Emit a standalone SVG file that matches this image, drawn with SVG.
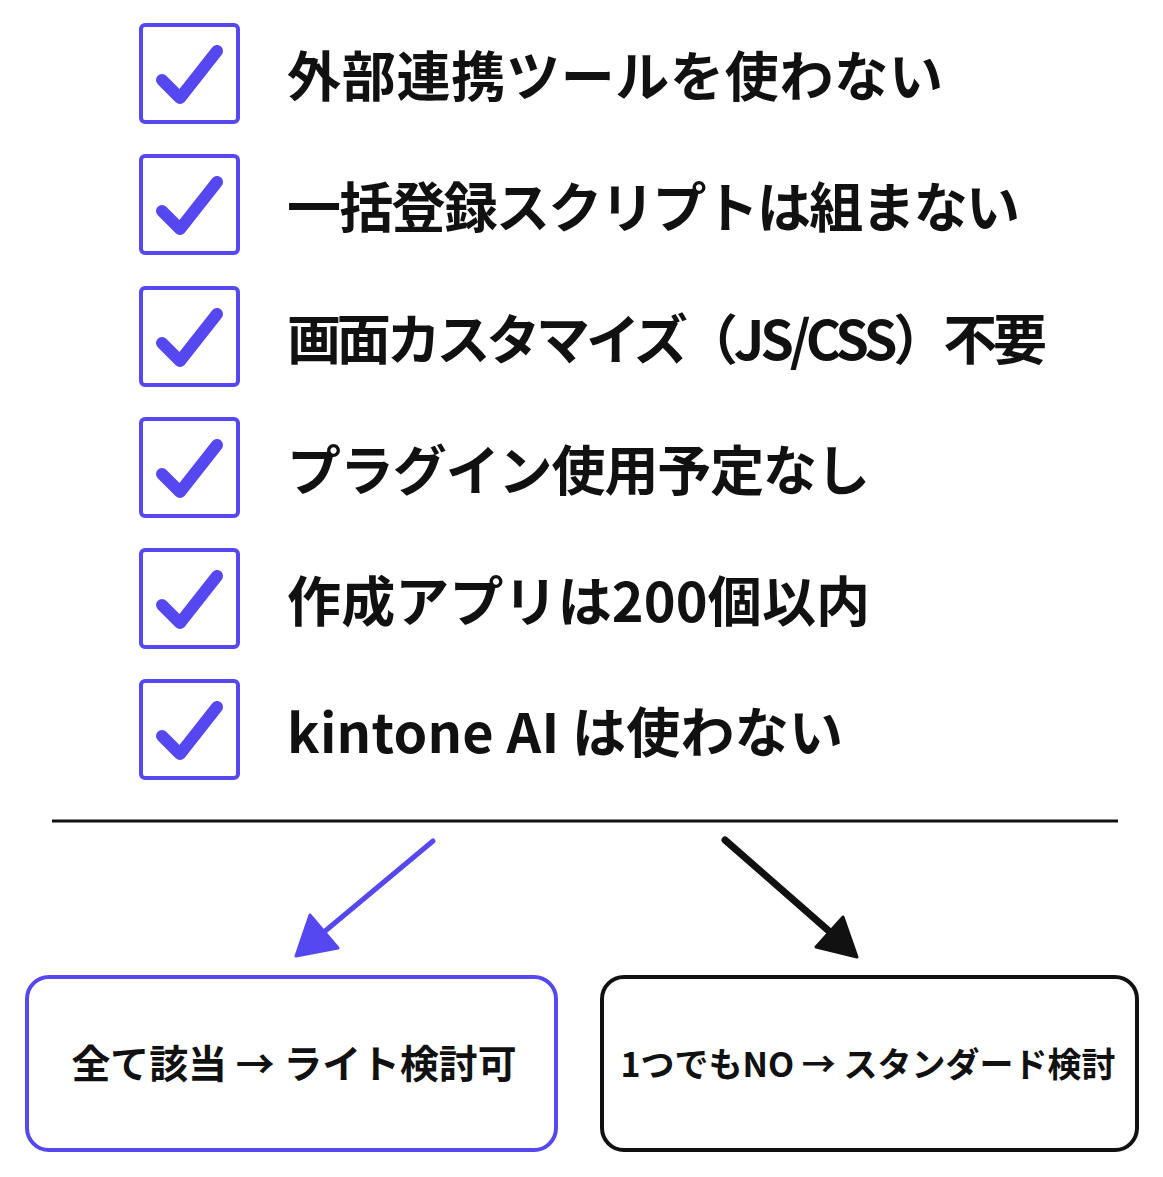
<svg xmlns="http://www.w3.org/2000/svg" width="1163" height="1177" viewBox="0 0 1163 1177">
<style>
.box{fill:#fff;stroke:#5548f0;stroke-width:4}
.chk{fill:none;stroke:#5548f0;stroke-width:12;stroke-linecap:round;stroke-linejoin:round}
.lbl{font-family:"Noto Sans CJK JP","Noto Sans",sans-serif;font-weight:700;font-size:54px;fill:#111}
.res{font-family:"Noto Sans CJK JP","Noto Sans",sans-serif;font-weight:700;font-size:39px;fill:#111;text-anchor:middle}
</style>
<defs>
<g id="check">
<rect class="box" x="141" y="0" width="97" height="97" rx="4"/>
<polyline class="chk" points="162,55 180,73 217,26"/>
</g>
</defs>
<rect width="1163" height="1177" fill="#fff"/>
<g id="item1"><use href="#check" y="25"/><text class="lbl" x="287" y="97" textLength="656" lengthAdjust="spacing">外部連携ツールを使わない</text></g>
<g id="item2"><use href="#check" y="156"/><text class="lbl" x="287" y="228" textLength="733" lengthAdjust="spacing">一括登録スクリプトは組まない</text></g>
<g id="item3"><use href="#check" y="288"/><text class="lbl" x="287" y="360" textLength="760" lengthAdjust="spacing">画面カスタマイズ（JS/CSS）不要</text></g>
<g id="item4"><use href="#check" y="419"/><text class="lbl" x="287" y="491" textLength="583" lengthAdjust="spacing">プラグイン使用予定なし</text></g>
<g id="item5"><use href="#check" y="550"/><text class="lbl" x="287" y="622" textLength="583" lengthAdjust="spacing">作成アプリは200個以内</text></g>
<g id="item6"><use href="#check" y="681"/><text class="lbl" x="287" y="753" textLength="556" lengthAdjust="spacing">kintone AI は使わない</text></g>
<g id="connectors">
<line x1="52" y1="821" x2="1118" y2="821" stroke="#111" stroke-width="3"/>
<line x1="433" y1="841" x2="318" y2="937" stroke="#5548f0" stroke-width="5" stroke-linecap="round"/>
<polygon points="296,956 310,915 338,948" fill="#5548f0" stroke="#5548f0" stroke-width="3" stroke-linejoin="round"/>
<line x1="725" y1="840" x2="838" y2="939" stroke="#111" stroke-width="7" stroke-linecap="round"/>
<polygon points="857,957 843,917 816,947" fill="#111" stroke="#111" stroke-width="3" stroke-linejoin="round"/>
</g>
<g id="result-light">
<rect x="27" y="977" width="529" height="173" rx="22" fill="#fff" stroke="#5548f0" stroke-width="4"/>
<text class="res" x="294" y="1078" textLength="445" lengthAdjust="spacingAndGlyphs">全て該当 → ライト検討可</text>
</g>
<g id="result-standard">
<rect x="602" y="977" width="535" height="173" rx="22" fill="#fff" stroke="#111" stroke-width="4"/>
<text class="res" x="868" y="1077" style="font-size:34px">1つでもNO → スタンダード検討</text>
</g>
</svg>
